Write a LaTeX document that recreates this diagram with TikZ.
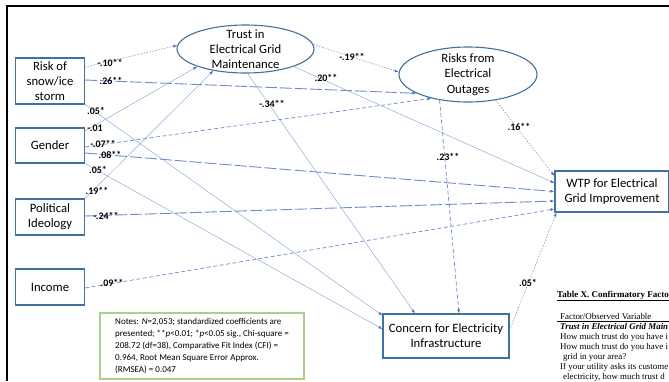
\documentclass[tikz,border=0pt]{standalone}
\usepackage{fontspec}
\setmainfont{Carlito}
\newfontfamily\tabfont{Liberation Serif}
\usetikzlibrary{arrows.meta,shapes.geometric}

\definecolor{boxblue}{HTML}{41719C}
\definecolor{lineblue}{HTML}{8FAADC}
\definecolor{dashblue}{HTML}{6A8BCF}
\definecolor{tipblue}{HTML}{4472C4}
\definecolor{notegreen}{HTML}{A9D18E}

\tikzset{
  varbox/.style={draw=boxblue, line width=1.1pt, rectangle, inner sep=0pt,
    align=center, font=\fontsize{12.7}{15}\selectfont},
  latent/.style={draw=boxblue, line width=1.1pt, ellipse, inner sep=0pt},
  inlabel/.style={align=center, font=\fontsize{12.7}{15.3}\selectfont},
  coef/.style={font=\bfseries\fontsize{10}{10}\selectfont, inner sep=0pt},
  notebox/.style={draw=notegreen, line width=1.3pt, rectangle, inner sep=0pt,
    align=left, minimum width=204pt, minimum height=66pt,
    font=\fontsize{9}{12}\selectfont},
  tabline/.style={anchor=base west, inner sep=0pt, font=\tabfont\fontsize{8.9}{10}\selectfont},
  arr/.style={-{Latex[length=4pt,width=3pt,color=tipblue]}},
  solidarr/.style={arr, draw=lineblue, line width=0.5pt},
  dotarr/.style={arr, draw=lineblue!70!tipblue, line width=0.6pt, dash pattern=on 1.5pt off 1.5pt},
  dasharr/.style={arr, draw=dashblue, line width=0.7pt, dash pattern=on 4pt off 2.5pt},
  longarr/.style={arr, draw=dashblue, line width=0.9pt, dash pattern=on 12pt off 3pt}
}

\begin{document}
\begin{tikzpicture}[x=1pt, y=-1pt]
  \useasboundingbox (0,0) rectangle (669,381);
  \draw[line width=2pt] (7,381) -- (7,6) -- (669,6);

  % observed variables
  \node[varbox, minimum width=69pt, minimum height=46pt] (risk) at (50,81) {Risk of\\snow/ice\\storm};
  \node[varbox, minimum width=69pt, minimum height=35pt] (gender) at (50,145.5) {Gender};
  \node[varbox, minimum width=69pt, minimum height=36pt] (politic) at (50,217) {Political\\Ideology};
  \node[varbox, minimum width=69pt, minimum height=36pt] (income) at (50,287) {Income};

  % latent factors
  \node[latent, minimum width=137pt, minimum height=48pt,
    label={[inlabel]center:Trust in\\Electrical Grid\\Maintenance}] (trust) at (245.5,49) {};
  \node[latent, minimum width=138pt, minimum height=55pt,
    label={[inlabel]center:Risks from\\Electrical\\Outages}] (outages) at (468,74.5) {};

  % outcomes
  \node[varbox, minimum width=114pt, minimum height=41pt] (wtp) at (612,191.5) {WTP for Electrical\\Grid Improvement};
  \node[varbox, minimum width=126pt, minimum height=44pt] (concern) at (446,336) {Concern for Electricity\\Infrastructure};

  \node[notebox] (notes) at (202,346) {Notes: \textit{N}=2,053; standardized coefficients are\\
    presented; **\textit{p}<0.01; *\textit{p}<0.05 sig., Chi-square =\\
    208.72 (df=38), Comparative Fit Index (CFI) =\\
    0.964, Root Mean Square Error Approx.\\
    (RMSEA) = 0.047};

  % paths
  \draw[dotarr] ([yshift=14pt]risk.east) -- (trust.177);
  \draw[longarr] ([yshift=1pt]risk.east) -- (outages.200);
  \draw[solidarr] (risk.south east) -- ([yshift=-2pt]concern.north west);
  \draw[solidarr] ([yshift=14.5pt]gender.east) -- (trust.200);
  \draw[dasharr] ([yshift=-1.5pt]gender.east) -- (outages.213);
  \draw[longarr] ([yshift=-7.5pt]gender.east) -- (wtp.west);
  \draw[solidarr] (gender.south east) -- ([yshift=7pt]concern.west);
  \draw[solidarr] (politic.north east) -- (trust.214);
  \draw[longarr] ([yshift=1pt]politic.east) -- ([yshift=-9.5pt]wtp.west);
  \draw[dasharr] ([yshift=-1pt]income.east) -- ([yshift=-17.5pt]wtp.west);
  \draw[dotarr] (trust.4) -- (outages.178);
  \draw[solidarr] (trust.340) -- ([yshift=8.5pt]wtp.west);
  \draw[solidarr] (trust.275) -- ([xshift=-31pt]concern.north);
  \draw[dasharr] (outages.222) -- ([xshift=13pt]concern.north);
  \draw[dotarr] (outages.317) -- ([yshift=15.5pt]wtp.west);
  \draw[dotarr] ([yshift=6pt]concern.east) -- ([xshift=2pt]wtp.south west);

  % coefficients
  \node[coef] (c-rt) at (110,63) {-.10**};
  \node[coef] (c-ro) at (111,81) {.26**};
  \node[coef] (c-rc) at (96,111) {.05*};
  \node[coef] (c-gt) at (95,128) {-.01};
  \node[coef] (c-go) at (103,144) {-.07**};
  \node[coef] (c-gw) at (110,155) {.08**};
  \node[coef] (c-gc) at (98,170) {.05*};
  \node[coef] (c-pt) at (97,191) {.19**};
  \node[coef] (c-pw) at (106,216) {-.24**};
  \node[coef] (c-iw) at (112,283) {.09**};
  \node[coef] (c-to) at (352,57) {-.19**};
  \node[coef] (c-tw) at (326,78) {.20**};
  \node[coef] (c-tc) at (272,104) {-.34**};
  \node[coef] (c-oc) at (448,157) {.23**};
  \node[coef] (c-ow) at (519,127) {.16**};
  \node[coef] (c-cw) at (528,283) {.05*};

  % table fragment at the edge
  \begin{scope}
    \clip (540,280) rectangle (669,381);
    \node[tabline, font=\tabfont\bfseries\fontsize{9}{10}\selectfont] (t-title) at (557,297) {\underline{Table X. Confirmatory Facto}};
    \node[tabline] (t-head) at (560,319) {Factor/Observed Variable};
    \draw[line width=0.6pt] (557,321.5) -- (669,321.5);
    \node[tabline, font=\tabfont\bfseries\itshape\fontsize{8.9}{10}\selectfont] (t-fac) at (560,329) {Trust in Electrical Grid Main};
    \node[tabline] (t-q1) at (560,339) {How much trust do you have i};
    \node[tabline] (t-q2) at (560,349) {How much trust do you have i};
    \node[tabline] (t-q2b) at (563,359) {grid in your area?};
    \node[tabline] (t-q3) at (560,369) {If your utility asks its custome};
    \node[tabline] (t-q3b) at (563,379) {electricity, how much trust d};
  \end{scope}
\end{tikzpicture}
\end{document}
